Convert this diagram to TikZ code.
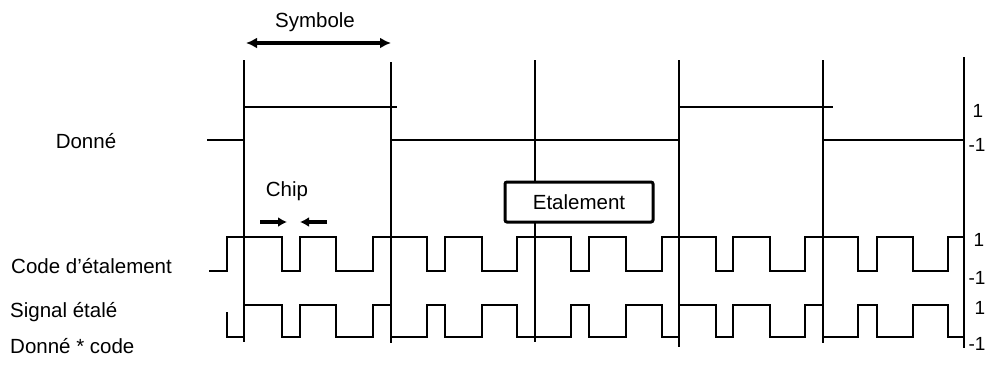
\documentclass[tikz,border=0pt]{standalone}
\usepackage{fontspec}
\setmainfont{Liberation Sans}
\usetikzlibrary{arrows.meta}
\begin{document}
\begin{tikzpicture}[x=1pt,y=-1pt,
  lbl/.style={font=\fontsize{20.5}{24}\selectfont, inner sep=0pt},
  rlbl/.style={font=\fontsize{19}{22}\selectfont, inner sep=0pt},
  vthick/.style={line width=2.6pt},
  vthin/.style={line width=1.3pt},
  wave/.style={line width=1.5pt, line join=miter},
  datahi/.style={line width=2.2pt},
  datalo/.style={line width=1.3pt},
  bigarrow/.style={line width=3.5pt, {Latex[length=11pt,width=11pt]}-{Latex[length=11pt,width=11pt]}},
  chiparrow/.style={line width=3.5pt, -{Latex[length=9pt,width=10pt]}},
  boxstyle/.style={draw, line width=3pt, rounded corners=2pt, fill=white, minimum width=148pt, minimum height=40pt, font=\fontsize{20.5}{24}\selectfont}
]
\useasboundingbox (0,0) rectangle (988,365);

% vertical symbol boundaries
\draw[vthick] (244,60) -- (244,202);
\draw[vthin] (244,202) -- (244,342);
\draw[vthick] (391,62) -- (391,343);
\draw[vthick] (535,60) -- (535,122);
\draw[line width=1.7pt] (535,122) -- (535,342);
\draw[vthick] (679,60) -- (679,200);
\draw[line width=1.6pt] (679,200) -- (679,347);
\draw[vthick] (823,60) -- (823,343);
\draw[vthin] (964,57) -- (964,348);

% data signal
\draw[datalo] (207,140) -- (244,140);
\draw[datahi] (244,107) -- (397,107);
\draw[datalo] (391,140) -- (679,140);
\draw[datahi] (679,107) -- (833,107);
\draw[datalo] (823,140) -- (964,140);

% spreading code
\draw[wave] (209,271) -- (227,271) -- (227,237) -- (282,237) -- (282,271) -- (300,271) -- (300,237) -- (336,237) -- (336,271) -- (373,271) -- (373,237)
 -- (427,237) -- (427,271) -- (445,271) -- (445,237) -- (482,237) -- (482,271) -- (517,271) -- (517,237)
 -- (571,237) -- (571,271) -- (589,271) -- (589,237) -- (626,237) -- (626,271) -- (662,271) -- (662,237)
 -- (716,237) -- (716,271) -- (733,271) -- (733,237) -- (770,237) -- (770,271) -- (805,271) -- (805,237)
 -- (858,237) -- (858,271) -- (877,271) -- (877,237) -- (913,237) -- (913,271) -- (948,271) -- (948,237) -- (964,237);

% spread signal
\draw[wave] (227,312) -- (227,337) -- (244,337) -- (244,305) -- (282,305) -- (282,337) -- (300,337) -- (300,305) -- (336,305) -- (336,337) -- (373,337) -- (373,305) -- (391,305) -- (391,337)
 -- (427,337) -- (427,305) -- (445,305) -- (445,337) -- (482,337) -- (482,305) -- (517,305) -- (517,337)
 -- (571,337) -- (571,305) -- (589,305) -- (589,337) -- (626,337) -- (626,305) -- (662,305) -- (662,337) -- (679,337) -- (679,305)
 -- (716,305) -- (716,337) -- (733,337) -- (733,305) -- (770,305) -- (770,337) -- (805,337) -- (805,305) -- (823,305) -- (823,337)
 -- (858,337) -- (858,305) -- (877,305) -- (877,337) -- (913,337) -- (913,305) -- (948,305) -- (948,337) -- (964,337);

% symbol arrow
\node[lbl] (symb) at (315,22) {Symbole};
\coordinate (sa) at (246,43);
\coordinate (sb) at (391,43);
\draw[bigarrow] (sa) -- (sb);

% chip arrows
\node[lbl] (chip) at (287,191) {Chip};
\coordinate (ca1) at (260,222);
\coordinate (ca2) at (287,222);
\coordinate (cb1) at (327,222);
\coordinate (cb2) at (300,222);
\draw[chiparrow] (ca1) -- (ca2);
\draw[chiparrow] (cb1) -- (cb2);

% Etalement box
\node[boxstyle] (etal) at (579,202) {Etalement};

% left labels
\node[lbl] (donne) at (86,141) {Donné};
\node[lbl, anchor=west] (code) at (11,266) {Code d'étalement};
\node[lbl, anchor=west] (sig1) at (10,312) {Signal étalé};
\node[lbl, anchor=west] (sig2) at (10,346) {Donné * code};

% right level labels
\node[rlbl] (d1) at (978,111) {1};
\node[rlbl] (dm1) at (977,145) {-1};
\node[rlbl] (c1) at (979,240) {1};
\node[rlbl] (cm1) at (977,278) {-1};
\node[rlbl] (s1) at (980,308) {1};
\node[rlbl] (sm1) at (977,344) {-1};
\end{tikzpicture}
\end{document}
